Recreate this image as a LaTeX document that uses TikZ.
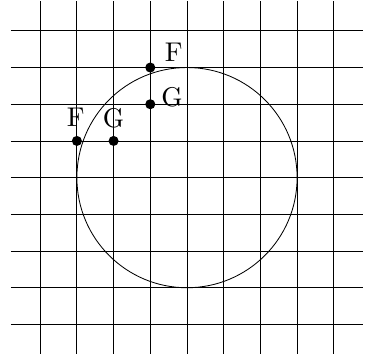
\documentclass[tikz,border=0pt]{standalone}
\begin{document}
\begin{tikzpicture}[x=28.44pt,y=28.44pt,
  gridline/.style={line width=0.65pt},
  dot/.style={circle,fill=black,inner sep=0pt,minimum size=7.8pt},
  lbl/.style={font=\fontsize{10}{12}\selectfont,scale=2.1,inner sep=0pt,anchor=base}]
\useasboundingbox (-5.095,-5.02) rectangle (4.85,4.84);
\foreach \k in {-4,...,4} {
  \draw[gridline] (\k,-4.8) -- (\k,4.8);
  \draw[gridline] (-4.8,\k) -- (4.8,\k);
}
\coordinate (c) at (0,0);
\draw[gridline] (c) circle (3);
\coordinate (dl) at (-3,0);
\coordinate (dr) at (3,0);
\draw[gridline] (dl) -- (dr);
\node[dot] (f1) at (-1,3) {};
\node[dot] (g1) at (-1,2) {};
\node[dot] (f2) at (-3,1) {};
\node[dot] (g2) at (-2,1) {};
\node[lbl] (lf1) at (-0.36,3.16) {F};
\node[lbl] (lg1) at (-0.41,1.95) {G};
\node[lbl] (lf2) at (-3.03,1.38) {F};
\node[lbl] (lg2) at (-2,1.37) {G};
\end{tikzpicture}
\end{document}
